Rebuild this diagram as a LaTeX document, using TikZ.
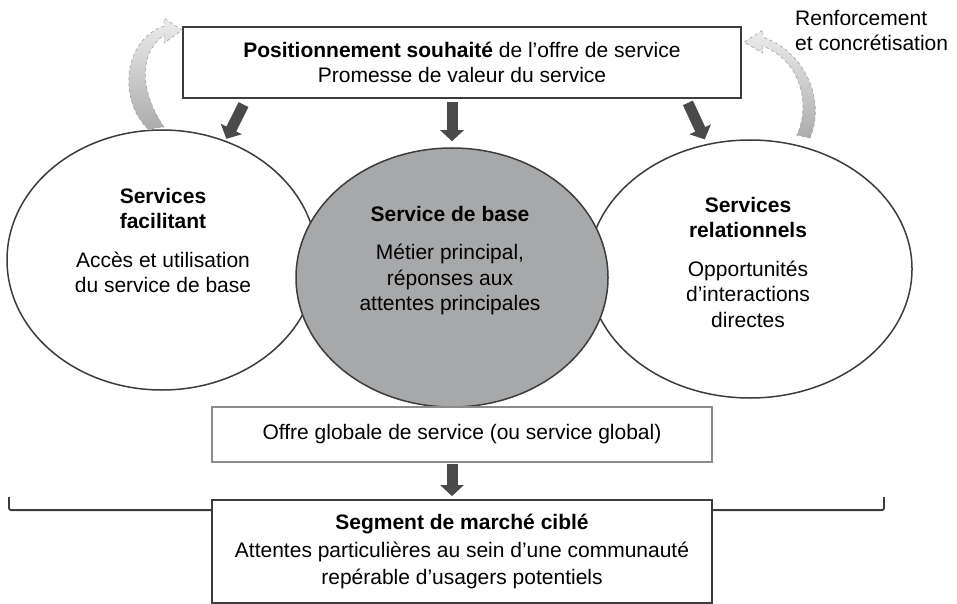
\documentclass[tikz,border=0pt]{standalone}
\usepackage{fontspec}
\setmainfont{Liberation Sans}
\usepackage{tikz}
\usetikzlibrary{arrows.meta,shapes.geometric,calc,positioning}
\definecolor{linegray}{HTML}{3C3C3C}
\definecolor{arrowgray}{HTML}{4A4A4A}
\definecolor{basegray}{HTML}{A7A8AA}
\definecolor{offregray}{HTML}{8C8C8C}
\tikzset{>=latex}
\tikzset{
	boite/.style={draw=linegray, line width=1.8pt, fill=white, align=center, inner sep=0pt},
	bulle/.style={ellipse, draw=linegray, line width=1.5pt, inner sep=0pt},
	gros/.style={draw=arrowgray, line width=11pt, -{Triangle[width=23pt,length=11pt]}},
	fleche courbe/.style={draw=gray!75, dashed, line width=0.6pt, top color=gray!15, bottom color=gray!65},
	accolade/.style={draw=linegray, line width=1.8pt, rounded corners=2pt},
}

\begin{document}
\begin{tikzpicture}[x=1pt,y=-1pt,font=\fontsize{21}{25.5}\selectfont]
		\useasboundingbox (0,0) rectangle (957,604);
		\node[bulle, fill=white, minimum width=310pt, minimum height=260pt] (facil) at (162,260) {};
		\node[bulle, fill=white, minimum width=324pt, minimum height=258pt] (relat) at (750,269) {};
		\node[bulle, fill=basegray, minimum width=312pt, minimum height=259pt] (base) at (452,277.5) {};
		\node[anchor=north, align=center, inner sep=0pt] (tfacil) at (163,188) {\textbf{Services}\\\textbf{facilitant}\\[13pt]Accès et utilisation\\du service de base};
		\node[anchor=north, align=center, inner sep=0pt] (tbase) at (450,206) {\textbf{Service de base}\\[13pt]Métier principal,\\réponses aux\\attentes principales};
		\node[anchor=north, align=center, inner sep=0pt] (trelat) at (748,197) {\textbf{Services}\\\textbf{relationnels}\\[13pt]Opportunités\\d’interactions\\directes};

		\node[boite, minimum width=558pt, minimum height=71pt] (posit) at (462,62.5) {\textbf{Positionnement souhaité} de l’offre de service\\Promesse de valeur du service};
		\node[anchor=north west, align=left, inner sep=0pt] (trenf) at (795,10) {Renforcement\\et concrétisation};

		\begin{scope}[shift={(posit.north west)}]
			\path[fleche courbe] (-18,101) .. controls (-41,68) and (-45,28) .. (-18,9) -- (-18,17) -- (0,4) -- (-18,-8) -- (-18,0) .. controls (-58,13) and (-65,73) .. (-34,103) -- cycle;
		\end{scope}
		\begin{scope}[shift={(posit.north east)}]
			\path[fleche courbe] (68,112) .. controls (83,78) and (67,28) .. (21,11) -- (21,4) -- (2,16) -- (21,27) -- (21,20) .. controls (59,35) and (69,78) .. (55,109) -- cycle;
		\end{scope}

		\draw[gros, shorten >=2pt] ($(facil.62)+(18,-36)$) -- (facil.62);
		\draw[gros, shorten >=6pt] ($(base.north)+(0,-45)$) -- (base.north);
		\draw[gros, shorten >=5pt] ($(relat.109)+(-19,-41)$) -- (relat.109);

		\node[boite, draw=offregray, minimum width=500pt, minimum height=55pt] (offre) at (462,434.5) {Offre globale de service (ou service global)};
		\node[boite, minimum width=500pt, minimum height=103pt] (segment) at (462,551.5) {\textbf{Segment de marché ciblé}\\[2pt]Attentes particulières au sein d’une communauté\\[2pt]repérable d’usagers potentiels};

		\draw[gros, shorten <=1pt, shorten >=3pt] (base.south |- offre.south) -- (base.south |- segment.north);
		\coordinate (brl) at (9,497);
		\coordinate (brr) at (884,497);
		\draw[accolade] (brl) |- ([yshift=-11pt]segment.north west);
		\draw[accolade] (brr) |- ([yshift=-11pt]segment.north east);
	\end{tikzpicture}
\end{document}
